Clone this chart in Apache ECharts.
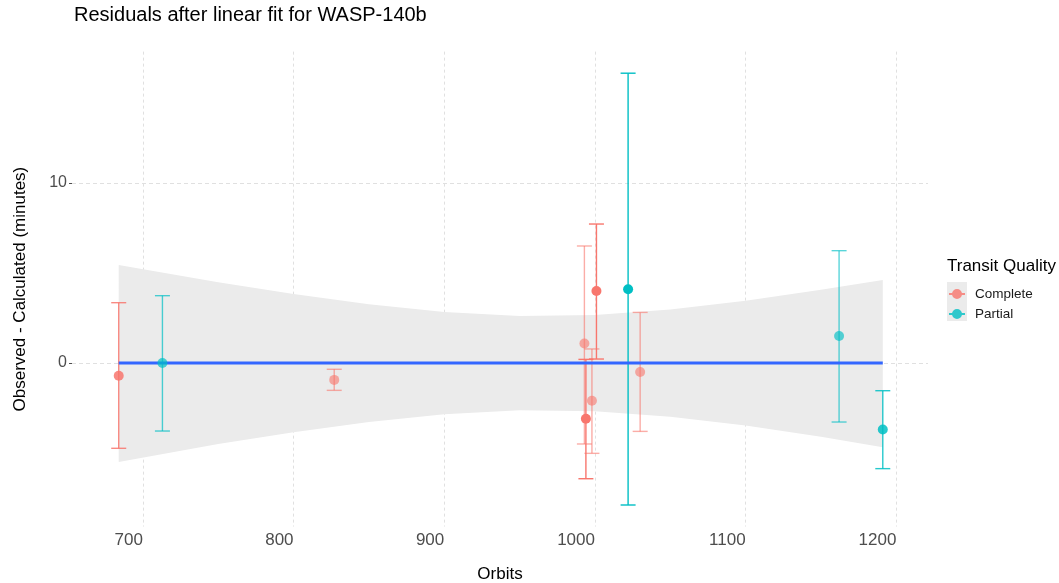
<!DOCTYPE html>
<html>
<head>
<meta charset="utf-8">
<script src="https://cdn.jsdelivr.net/npm/echarts@6/dist/echarts.min.js"></script>
<style>
  html, body { margin: 0; padding: 0; background: #fff; }
  #chart { width: 1059px; height: 583px; }
</style>
</head>
<body>
<div id="chart"></div>
<script>
// orbit numbers, O-C residuals (minutes) and error bar limits, per transit quality
const completeOrbit = [684, 827, 993, 994, 998, 1001, 1030];
const completeOC    = [-0.71, -0.94, 1.08, -3.1, -2.1, 4.0, -0.5];
const completeLow   = [-4.74, -1.52, -4.5, -6.43, -5.02, 0.22, -3.8];
const completeHigh  = [3.35, -0.35, 6.5, 0.2, 0.78, 7.72, 2.81];

const partialOrbit = [713, 1022, 1162, 1191];
const partialOC    = [0.0, 4.1, 1.5, -3.7];
const partialLow   = [-3.78, -7.89, -3.28, -5.87];
const partialHigh  = [3.74, 16.1, 6.24, -1.54];

// linear fit line and its confidence band
const fitOrbit = [684, 1191];
const fitOC    = [0, 0];
const bandOrbit = [684, 750, 800, 850, 900, 950, 1000, 1050, 1100, 1150, 1191];
const bandUpper = [5.45, 4.48, 3.83, 3.26, 2.83, 2.61, 2.66, 2.97, 3.46, 4.07, 4.61];
const bandLower = [-5.5, -4.5, -3.85, -3.28, -2.85, -2.63, -2.68, -2.99, -3.48, -4.1, -4.68];

const xTicks = [700, 800, 900, 1000, 1100, 1200];
const yTicks = [0, 10];

// point transparency as it looks in the picture
const completeAlpha = [0.85, 0.6, 0.6, 1, 0.6, 1, 0.6];
const partialAlpha  = [0.7, 1, 0.65, 0.85];

const RED = '#F8766D';
const TEAL = '#00BFC4';
const FONT = 'Liberation Sans, Arial, sans-serif';

const myChart = echarts.init(document.getElementById('chart'));

const errorBars = function (name, color, xs, lows, highs, alphas) {
  return {
    type: 'custom',
    name: name,
    z: 2,
    itemStyle: { color: color, opacity: 0.8 },
    data: xs.map((x, i) => [x, lows[i], highs[i]]),
    encode: { x: 0, y: [1, 2] },
    renderItem: function (params, api) {
      const top = api.coord([api.value(0), api.value(2)]);
      const bot = api.coord([api.value(0), api.value(1)]);
      const half = 7.5;
      const style = { stroke: color, lineWidth: 1.4, opacity: alphas[params.dataIndex] };
      return {
        type: 'group',
        children: [
          { type: 'line', shape: { x1: top[0], y1: top[1], x2: bot[0], y2: bot[1] }, style: style },
          { type: 'line', shape: { x1: top[0] - half, y1: top[1], x2: top[0] + half, y2: top[1] }, style: style },
          { type: 'line', shape: { x1: bot[0] - half, y1: bot[1], x2: bot[0] + half, y2: bot[1] }, style: style }
        ]
      };
    }
  };
};

const points = function (name, color, xs, ys, alphas) {
  return {
    type: 'scatter',
    name: name,
    z: 4,
    symbolSize: 10,
    itemStyle: { color: color, opacity: 0.8 },
    data: xs.map((x, i) => ({ value: [x, ys[i]], itemStyle: { opacity: alphas[i] } }))
  };
};

const option = {
  animation: false,
  textStyle: { fontFamily: FONT },
  title: [
    {
      text: 'Residuals after linear fit for WASP-140b',
      left: 69, top: 0,
      textStyle: { fontSize: 20, fontWeight: 'normal', color: '#000', fontFamily: FONT }
    },
    {
      text: 'Transit Quality',
      left: 942, top: 253,
      textStyle: { fontSize: 17, fontWeight: 'normal', color: '#000', fontFamily: FONT }
    }
  ],
  graphic: [
    { type: 'rect', left: 947, top: 282, shape: { width: 20, height: 39 }, style: { fill: '#ebebeb' }, z: 0 }
  ],
  legend: {
    orient: 'vertical',
    left: 949, top: 287,
    padding: 0,
    itemWidth: 16, itemHeight: 10, itemGap: 6,
    icon: 'path://M0,4.1H16V5.9H0Z M13,5A5,5 0 1 1 3,5A5,5 0 1 1 13,5Z',
    textStyle: { fontSize: 13.5, color: '#1a1a1a', fontFamily: FONT, padding: [0, 0, 0, 5] },
    data: ['Complete', 'Partial']
  },
  grid: { left: 72, right: 131, top: 51.6, bottom: 56.4, outerBoundsMode: 'none', containLabel: false },
  xAxis: {
    type: 'value',
    min: 653, max: 1221,
    name: 'Orbits',
    nameLocation: 'middle',
    nameGap: 39,
    nameTextStyle: { fontSize: 17, color: '#000', fontFamily: FONT },
    axisLine: { show: false },
    axisTick: { show: false, customValues: xTicks },
    axisLabel: {
      customValues: xTicks, align: 'right', fontSize: 17, color: '#4d4d4d', margin: 5, fontFamily: FONT,
      formatter: (v) => String(v)
    },
    splitLine: { show: true, lineStyle: { color: '#e0e0e0', type: [3, 3], width: 1 } }
  },
  yAxis: {
    type: 'value',
    min: -9.09, max: 17.3,
    name: 'Observed - Calculated (minutes)',
    nameLocation: 'middle',
    nameGap: 43.5,
    nameTextStyle: { fontSize: 17, color: '#000', fontFamily: FONT },
    axisLine: { show: false },
    axisTick: { show: true, customValues: yTicks, length: 3, lineStyle: { color: '#4d4d4d' } },
    axisLabel: { customValues: yTicks, fontSize: 16, color: '#4d4d4d', margin: 5, fontFamily: FONT },
    splitLine: { show: true, lineStyle: { color: '#e0e0e0', type: [4, 3], width: 1 } }
  },
  series: [
    {
      type: 'custom',
      name: 'band',
      z: 1,
      silent: true,
      data: bandOrbit.map((x, i) => [x, bandUpper[i], bandLower[i]]),
      encode: { x: 0, y: [1, 2] },
      renderItem: function (params, api) {
        if (params.dataIndex !== 0) return null;
        const pts = [];
        bandOrbit.forEach((x, i) => pts.push(api.coord([x, bandUpper[i]])));
        for (let i = bandOrbit.length - 1; i >= 0; i--) pts.push(api.coord([bandOrbit[i], bandLower[i]]));
        return { type: 'polygon', shape: { points: pts }, style: { fill: '#ebebeb' } };
      }
    },
    errorBars('Complete', RED, completeOrbit, completeLow, completeHigh, completeAlpha),
    errorBars('Partial', TEAL, partialOrbit, partialLow, partialHigh, partialAlpha),
    points('Complete', RED, completeOrbit, completeOC, completeAlpha),
    points('Partial', TEAL, partialOrbit, partialOC, partialAlpha),
    {
      type: 'line',
      name: 'fit',
      z: 3,
      symbol: 'none',
      lineStyle: { color: '#3366FF', width: 3 },
      data: fitOrbit.map((x, i) => [x, fitOC[i]])
    }
  ]
};

option && myChart.setOption(option);
</script>
</body>
</html>
